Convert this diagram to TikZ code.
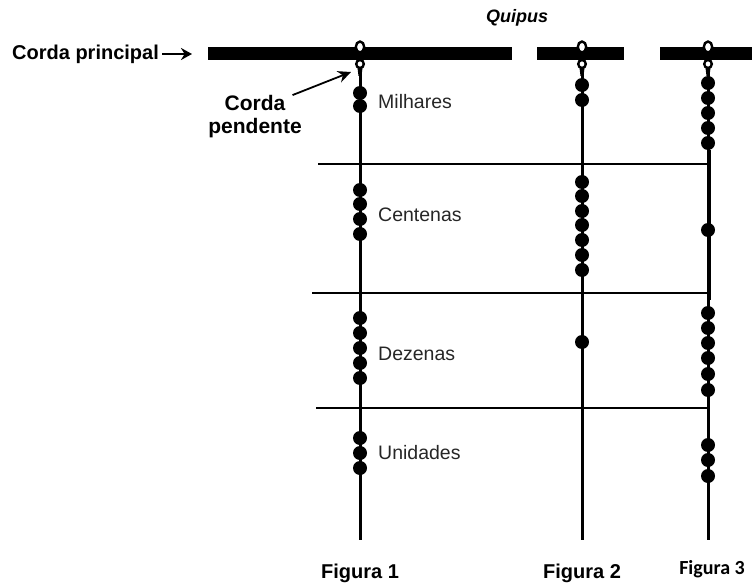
\documentclass[tikz,border=0pt]{standalone}
\usepackage{fontspec}
\setmainfont{Liberation Sans}
\newfontfamily\figfont{Carlito}
\usetikzlibrary{calc, arrows.meta, positioning}

\tikzset{
    label text/.style={font=\fontsize{19.5}{22}\selectfont, text=black!85, anchor=west, inner sep=0pt},
    bold text/.style={font=\fontsize{20}{23}\selectfont\bfseries, inner sep=0pt},
    cord line/.style={line width=3pt},
    level line/.style={line width=2.7pt},
    loop ring/.style={line width=2.4pt, fill=white},
}

\begin{document}
\begin{tikzpicture}[x=1pt,y=-1pt]
        \useasboundingbox (0,0) rectangle (752,583);

        \coordinate (cOneTop) at (360,62);
        \coordinate (cOneBot) at (360,540);
        \coordinate (cTwoTop) at (582,62);
        \coordinate (cTwoBot) at (582,540);
        \coordinate (cThreeTop) at (708,62);
        \coordinate (cThreeBot) at (708,540);

        % niveis
        \draw [level line] (318,164) -- (709,164);
        \draw [level line] (312,293) -- (709,293);
        \draw [line width=1.3pt] (316,408) -- (708,408);

        % cordas pendentes
        \draw [cord line] (cOneTop) -- (cOneBot);
        \draw [cord line] (cTwoTop) -- (cTwoBot);
        \draw [cord line] (cThreeTop) -- (cThreeBot);
        \draw [line width=4pt] (708.5,150) -- (708.5,300);

        % nos
        \newcommand{\nKnot}{7}
        \foreach \y in {93,106, 190,204,219,234, 318,333,348,363,378, 438,453,468}
            \fill (360,\y) circle (\nKnot);
        \foreach \y in {85,100, 182,196,211,225,240,255,270, 342}
            \fill (582,\y) circle (\nKnot);
        \foreach \y in {83,98,113,128,143, 230, 313,328,343,358,374,390, 445,460,476}
            \fill (708,\y) circle (\nKnot);

        % corda principal
        \fill (208,47.5) rectangle (512,60);
        \fill (537,47.5) rectangle (624,60);
        \fill (660,47.5) rectangle (752,60);
        \foreach \x in {360,582,708} {
            \fill (\x-2.5,68) -- (\x+2.5,68) -- (\x+1.5,76) -- (\x-1.5,76) -- cycle;
            \draw[loop ring] (\x,47) ellipse (4.2 and 5.5);
            \draw[loop ring] (\x,64) ellipse (3.8 and 4);
        }

        % textos
        \node[font=\fontsize{18}{21}\selectfont\bfseries\itshape, inner sep=0pt] (nQuipus) at (517,18) {Quipus};
        \node[bold text, anchor=west] (nPrincipal) at (12,54) {Corda principal};
        \coordinate (cPrincipalTip) at (192,54);
        \draw[line width=2pt, -{Stealth[length=11pt,width=12pt]}] (nPrincipal.east) ++(3,0) -- (cPrincipalTip);

        \node[bold text, font=\fontsize{21}{24}\selectfont\bfseries] (nCorda) at (255,103) {Corda};
        \node[bold text, font=\fontsize{21}{24}\selectfont\bfseries] (nPendente) at (255,128) {pendente};
        \coordinate (cPendenteTip) at (351,72);
        \draw[line width=1.8pt, -{Stealth[length=13pt,width=12pt]}] ($(nCorda.north east)+(7,0)$) -- (cPendenteTip);

        \node[label text] (nMilhares) at (378,102) {Milhares};
        \node[label text] (nCentenas) at (378,215) {Centenas};
        \node[label text] (nDezenas) at (378,354) {Dezenas};
        \node[label text] (nUnidades) at (378,453) {Unidades};

        \node[bold text] (nFigOne) at (360,573) {Figura 1};
        \node[bold text] (nFigTwo) at (582,573) {Figura 2};
        \node[font=\fontsize{20}{22}\selectfont\figfont\bfseries, inner sep=0pt] (nFigThree) at (712,569) {Figura 3};
        \end{tikzpicture}
\end{document}
